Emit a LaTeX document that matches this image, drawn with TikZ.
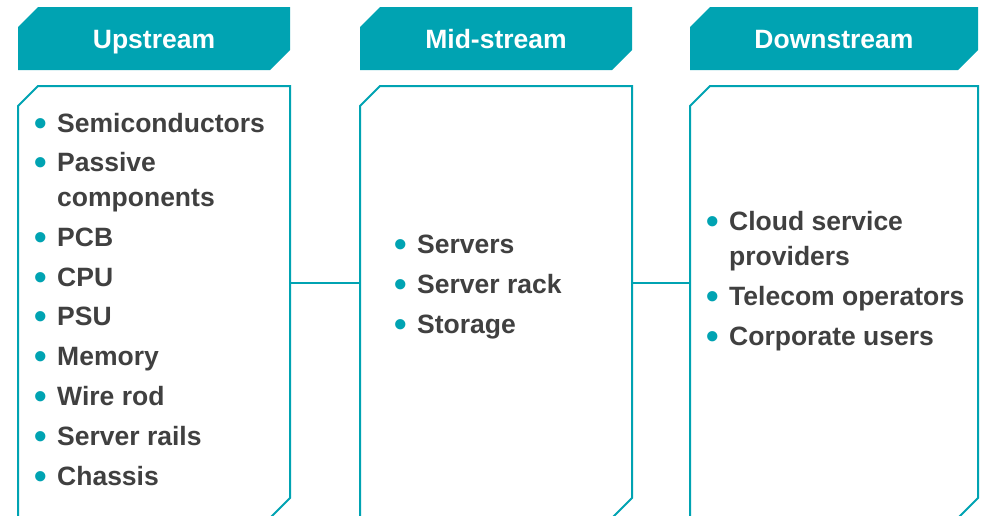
\documentclass[tikz,border=0pt]{standalone}
\usepackage{fontspec}
\setmainfont{Liberation Sans}
\usetikzlibrary{backgrounds}
\definecolor{ink}{RGB}{64,64,64}
\definecolor{stream}{RGB}{0,163,178}
\tikzset{
  head/.style={rectangle, text=white, inner sep=0pt, outer sep=0pt, text height=19pt, text depth=0pt,
    font=\fontsize{26.5}{30}\selectfont\bfseries, minimum height=63pt},
  panel/.style={rectangle, inner sep=0pt, outer sep=0pt, minimum height=432pt},
  cut/.style={draw=stream, line width=2pt, fill=white},
  item/.style={anchor=base west, text=ink, align=left, inner sep=0pt,
    font=\fontsize{26.5}{35}\selectfont\bfseries},
  link/.style={draw=stream, line width=2.5pt},
}
% outline with the top-left and bottom-right corners cut off
\newcommand\chamfer[1]{([yshift=-20pt]#1.north west) -- ([xshift=20pt]#1.north west) -- (#1.north east)
  -- ([yshift=20pt]#1.south east) -- ([xshift=-20pt]#1.south east) -- (#1.south west) -- cycle}
\newcommand\bul{\makebox[0pt][r]{\textcolor{stream}{\raisebox{-3.5pt}{\scalebox{1.35}{•}}}\hspace{10pt}}}

\begin{document}
\begin{tikzpicture}[x=1pt, y=-1pt]
  \useasboundingbox (0,0) rectangle (984,515);
  \clip (0,0) rectangle (984,515);
  % three stages of the chain, header on top of an open-ended panel
  \node[head, minimum width=272pt] (uphead) at (154,38.5) {Upstream};
  \node[head, minimum width=272pt] (midhead) at (496,38.5) {Mid-stream};
  \node[head, minimum width=288pt] (downhead) at (834,38.5) {Downstream};
  \begin{scope}[on background layer]
    \fill[stream] \chamfer{uphead};
    \fill[stream] \chamfer{midhead};
    \fill[stream] \chamfer{downhead};
  \end{scope}
  \node[panel, minimum width=272pt] (upbox) at (154,302) {};
  \node[panel, minimum width=272pt] (midbox) at (496,302) {};
  \node[panel, minimum width=288pt] (downbox) at (834,302) {};
  \path[cut] \chamfer{upbox};
  \path[cut] \chamfer{midbox};
  \path[cut] \chamfer{downbox};
  \draw[link] ([yshift=19pt]upbox.east) -- ([yshift=19pt]midbox.west);
  \draw[link] ([yshift=19pt]midbox.east) -- ([yshift=19pt]downbox.west);
  % upstream
  \node[item] (semi) at (57,132) {\bul Semiconductors};
  \node[item] (passive) at (57,206) {\bul Passive\\components};
  \node[item] (pcb) at (57,246) {\bul PCB};
  \node[item] (cpu) at (57,286) {\bul CPU};
  \node[item] (psu) at (57,325) {\bul PSU};
  \node[item] (memory) at (57,365) {\bul Memory};
  \node[item] (wire) at (57,405) {\bul Wire rod};
  \node[item] (rails) at (57,445) {\bul Server rails};
  \node[item] (chassis) at (57,485) {\bul Chassis};
  % mid-stream
  \node[item] (servers) at (417,253) {\bul Servers};
  \node[item] (rack) at (417,293) {\bul Server rack};
  \node[item] (storage) at (417,333) {\bul Storage};
  % downstream
  \node[item] (cloud) at (729,265) {\bul Cloud service\\providers};
  \node[item] (telecom) at (729,305) {\bul Telecom operators};
  \node[item] (corp) at (729,345) {\bul Corporate users};
\end{tikzpicture}
\end{document}
